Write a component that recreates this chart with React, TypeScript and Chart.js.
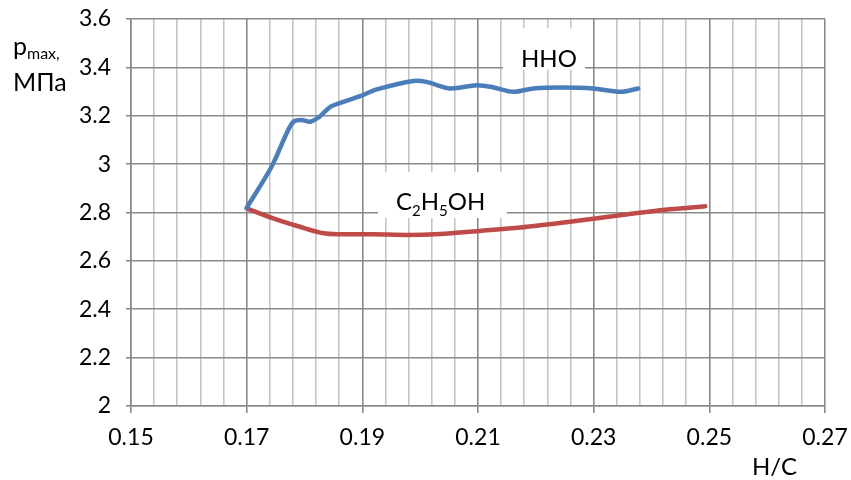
import React, { useEffect, useRef } from "react";
import { Chart, registerables } from "chart.js";

Chart.register(...registerables);

// HHO series
const hhoX = [0.17, 0.1743, 0.1769, 0.1781, 0.1795, 0.181, 0.1827, 0.1844, 0.1867, 0.1896, 0.1925, 0.1988, 0.2011, 0.2052, 0.2098, 0.2127, 0.2161, 0.2196, 0.2242, 0.2299, 0.2346, 0.2377];
const hhoY = [2.819, 2.989, 3.127, 3.175, 3.182, 3.175, 3.198, 3.236, 3.257, 3.281, 3.309, 3.344, 3.34, 3.313, 3.326, 3.317, 3.299, 3.313, 3.317, 3.313, 3.299, 3.313];

// C2H5OH series
const ethX = [0.17, 0.1746, 0.1792, 0.1833, 0.1861, 0.1919, 0.1977, 0.2034, 0.2103, 0.2173, 0.2259, 0.2346, 0.2432, 0.2493];
const ethY = [2.817, 2.776, 2.741, 2.714, 2.71, 2.71, 2.707, 2.711, 2.724, 2.738, 2.762, 2.789, 2.813, 2.826];

// axis settings
const xMin = 0.15;
const xMax = 0.27;
const xMajorStep = 0.02;
const xMinorStep = 0.004;
const yMin = 2;
const yMax = 3.6;
const yStep = 0.2;

const FONT = "Lato";

const isMajor = (v: number) => {
  const k = Math.round((v - xMin) / xMinorStep);
  return k % Math.round(xMajorStep / xMinorStep) === 0;
};

const zeroPad = (axis: any) => {
  axis.paddingLeft = 0;
  axis.paddingRight = 0;
  axis.paddingTop = 0;
  axis.paddingBottom = 0;
};

const labelsPlugin = {
  id: "labelsPlugin",
  beforeDatasetsDraw(chart: any) {
    const { ctx, scales } = chart;
    const xs = scales.x;
    const ys = scales.y;
    ctx.save();
    // HHO label box
    {
      const x0 = xs.getPixelForValue(0.2143);
      const x1 = xs.getPixelForValue(0.2285);
      const y0 = ys.getPixelForValue(3.562);
      const y1 = ys.getPixelForValue(3.39);
      ctx.fillStyle = "#ffffff";
      ctx.fillRect(x0, y0, x1 - x0, y1 - y0);
      ctx.fillStyle = "#000";
      ctx.font = `24px ${FONT}`;
      ctx.textBaseline = "alphabetic";
      ctx.textAlign = "center";
      ctx.fillText("HHO", (x0 + x1) / 2 + 5, y1 - 3);
    }
    // C2H5OH label box
    {
      const x0 = xs.getPixelForValue(0.1927);
      const x1 = xs.getPixelForValue(0.2150);
      const y0 = ys.getPixelForValue(2.967);
      const y1 = ys.getPixelForValue(2.777);
      ctx.fillStyle = "#ffffff";
      ctx.fillRect(x0, y0, x1 - x0, y1 - y0);
      ctx.fillStyle = "#000";
      ctx.textBaseline = "alphabetic";
      ctx.textAlign = "left";
      const base = y1 - 8;
      let cx = x0 + 18;
      const parts: [string, boolean][] = [["C", false], ["2", true], ["H", false], ["5", true], ["OH", false]];
      for (const [t, sub] of parts) {
        ctx.font = sub ? `15px ${FONT}` : `24px ${FONT}`;
        ctx.fillText(t, cx, sub ? base + 6 : base);
        cx += ctx.measureText(t).width;
      }
    }
    ctx.restore();
  },
  afterDraw(chart: any) {
    const { ctx } = chart;
    ctx.save();
    ctx.fillStyle = "#000";
    ctx.textBaseline = "alphabetic";
    ctx.textAlign = "left";
    // y title
    ctx.font = `25px ${FONT}`;
    ctx.fillText("p", 13, 55);
    const pw = ctx.measureText("p").width;
    ctx.font = `16px ${FONT}`;
    ctx.fillText("max,", 13 + pw, 59);
    ctx.font = `25px ${FONT}`;
    ctx.fillText("МПа", 13, 91);
    // x title
    ctx.font = `24px ${FONT}`;
    ctx.fillText("H/C", 752, 475);
    ctx.restore();
  },
};

export default function App() {
  const ref = useRef<HTMLCanvasElement | null>(null);

  useEffect(() => {
    if (!ref.current) return;
    const chart = new Chart(ref.current, {
      type: "line",
      data: {
        datasets: [
          {
            label: "HHO",
            data: hhoX.map((x, i) => ({ x, y: hhoY[i] })),
            borderColor: "#4a7ebb",
            borderWidth: 4.5,
            pointRadius: 0,
            tension: 0.3,
            fill: false,
            borderCapStyle: "round",
            borderJoinStyle: "round",
          },
          {
            label: "C2H5OH",
            data: ethX.map((x, i) => ({ x, y: ethY[i] })),
            borderColor: "#be4b48",
            borderWidth: 4.5,
            pointRadius: 0,
            tension: 0.3,
            fill: false,
            borderCapStyle: "round",
            borderJoinStyle: "round",
          },
        ],
      },
      options: {
        animation: false,
        responsive: true,
        maintainAspectRatio: false,
        layout: { padding: { top: 19, right: 26, left: 0, bottom: 0 } },
        plugins: {
          legend: { display: false },
          tooltip: { enabled: false },
        },
        scales: {
          x: {
            type: "linear",
            min: xMin,
            max: xMax,
            afterBuildTicks: (axis: any) => {
              const n = Math.round((xMax - xMin) / xMinorStep);
              const t = [];
              for (let i = 0; i <= n; i++) t.push({ value: +(xMin + i * xMinorStep).toFixed(4) });
              axis.ticks = t;
            },
            afterFit: (axis: any) => {
              axis.height = 74;
              zeroPad(axis);
            },
            ticks: {
              autoSkip: false,
              maxRotation: 0,
              padding: 11,
              color: "#000",
              font: { family: FONT, size: 23 },
              callback: (v: any) => (isMajor(Number(v)) ? Number(v).toFixed(2) : ""),
            },
            grid: {
              color: (c: any) => (c.tick && isMajor(c.tick.value) ? "#8a8a8a" : "#c4c4c4"),
              tickColor: (c: any) => (c.tick && isMajor(c.tick.value) ? "#8a8a8a" : "rgba(0,0,0,0)"),
              lineWidth: 1.6,
              tickLength: 7,
            },
            border: { color: "#8a8a8a", width: 1.6 },
          },
          y: {
            type: "linear",
            min: yMin,
            max: yMax,
            afterFit: (axis: any) => {
              axis.width = 131;
              zeroPad(axis);
            },
            ticks: {
              stepSize: yStep,
              padding: 15,
              color: "#000",
              font: { family: FONT, size: 23 },
              callback: (v: any) => String(Number(Number(v).toFixed(1))),
            },
            grid: {
              color: "#8a8a8a",
              lineWidth: 1.6,
              tickLength: 5,
            },
            border: { color: "#8a8a8a", width: 1.6 },
          },
        },
      },
      plugins: [labelsPlugin],
    } as any);
    return () => chart.destroy();
  }, []);

  return (
    <div style={{ position: "absolute", left: 0, top: 0, width: 851, height: 480, background: "#fff" }}>
      <canvas ref={ref} />
    </div>
  );
}
